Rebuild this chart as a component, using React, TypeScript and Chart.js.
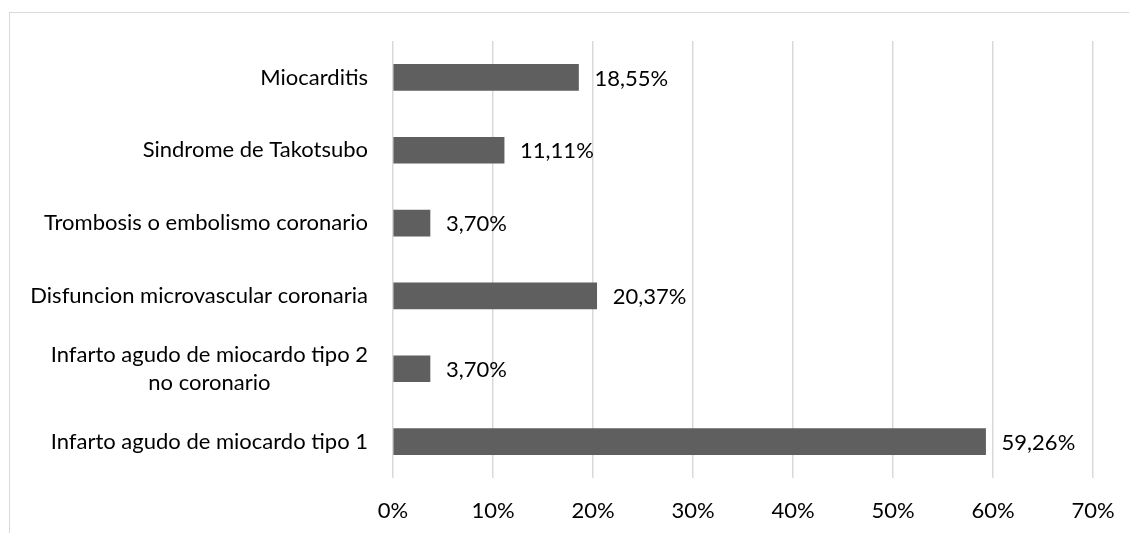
import React, { useEffect, useRef } from "react";
import { Chart, registerables } from "chart.js";

Chart.register(...registerables);

const categories: string[][] = [
  ["Miocarditis"],
  ["Sindrome de Takotsubo"],
  ["Trombosis o embolismo coronario"],
  ["Disfuncion microvascular coronaria"],
  ["Infarto agudo de miocardo tipo 2", "no coronario"],
  ["Infarto agudo de miocardo tipo 1"],
];
const values: number[] = [18.55, 11.11, 3.7, 20.37, 3.7, 59.26];
const valueLabels: string[] = ["18,55%", "11,11%", "3,70%", "20,37%", "3,70%", "59,26%"];
const xTicks: number[] = [0, 10, 20, 30, 40, 50, 60, 70];

const FONT = "Lato";
const SIZE = 22;

const labelPlugin = {
  id: "customLabels",
  afterDatasetsDraw(chart: any) {
    const ctx = chart.ctx;
    const area = chart.chartArea;
    const yScale = chart.scales.y;
    ctx.save();
    ctx.font = `${SIZE}px ${FONT}`;
    ctx.fillStyle = "#000";
    ctx.textBaseline = "middle";
    categories.forEach((lines, i) => {
      const cy = yScale.getPixelForTick(i);
      const right = area.left - 25;
      const lh = 28;
      if (lines.length === 1) {
        ctx.textAlign = "right";
        ctx.fillText(lines[0], right, cy);
      } else {
        const w = Math.max(...lines.map((l) => ctx.measureText(l).width));
        const cx = right - w / 2;
        ctx.textAlign = "center";
        lines.forEach((l, j) => {
          ctx.fillText(l, cx, cy + (j - (lines.length - 1) / 2) * lh);
        });
      }
    });
    const meta = chart.getDatasetMeta(0);
    ctx.textAlign = "left";
    meta.data.forEach((bar: any, i: number) => {
      ctx.fillText(valueLabels[i], bar.x + 16, bar.y + 1);
    });
    ctx.restore();
  },
};

export default function App() {
  const ref = useRef<HTMLCanvasElement>(null);
  useEffect(() => {
    if (!ref.current) return;
    const chart = new Chart(ref.current, {
      type: "bar",
      data: {
        labels: categories.map((c) => c.join(" ")),
        datasets: [
          {
            data: values,
            backgroundColor: "#5f5f5f",
            barThickness: 26,
          },
        ],
      },
      options: {
        indexAxis: "y",
        animation: false,
        responsive: false,
        maintainAspectRatio: false,
        layout: { padding: { left: 393, right: 36, top: 41, bottom: 0 } },
        plugins: { legend: { display: false }, tooltip: { enabled: false } },
        scales: {
          x: {
            min: 0,
            max: 70,
            afterBuildTicks: (s: any) => {
              s.ticks = xTicks.map((v) => ({ value: v }));
            },
            afterFit: (s: any) => {
              s.height = 55;
              s.paddingLeft = 0;
              s.paddingRight = 0;
            },
            border: { display: false },
            grid: { color: "#d9d9d9", lineWidth: 1.5, drawTicks: false },
            ticks: {
              padding: 20,
              maxRotation: 0,
              minRotation: 0,
              color: "#000",
              font: { family: FONT, size: SIZE },
              callback: (v: any) => `${v}%`,
            },
          },
          y: {
            display: false,
          },
        },
      },
      plugins: [labelPlugin],
    });
    return () => chart.destroy();
  }, []);
  return (
    <div style={{ position: "absolute", left: 0, top: 0, width: 1129, height: 533, background: "#fff" }}>
      <div
        style={{
          position: "absolute",
          left: 9,
          top: 12,
          width: 1130,
          height: 530,
          borderTop: "1px solid #d9d9d9",
          borderLeft: "1px solid #d9d9d9",
        }}
      />
      <canvas ref={ref} width={1129} height={533} style={{ position: "absolute", left: 0, top: 0 }} />
    </div>
  );
}
